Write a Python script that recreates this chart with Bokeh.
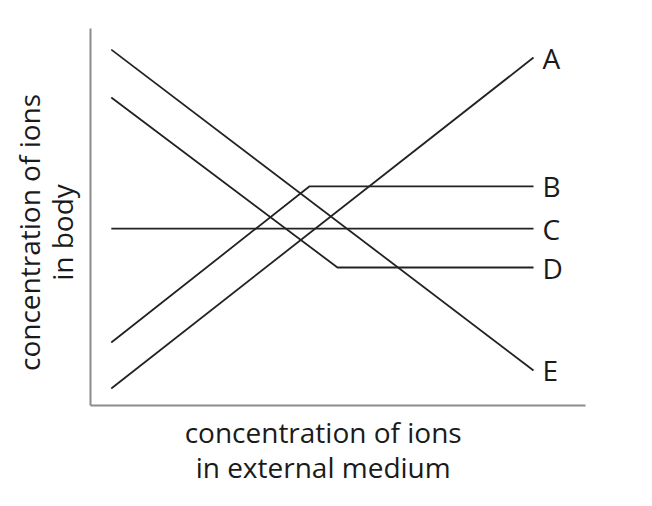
import math
from bokeh.plotting import figure
from bokeh.models import Range1d
from bokeh.core.properties import value
from bokeh.embed import file_html
from bokeh.resources import INLINE

# ---- data (axis units: 0..10 on both axes) ----
names = ["A", "B", "C", "D", "E"]
a_x = [0.42, 8.95]
a_y = [0.45, 9.23]
b_x = [0.42, 4.42, 8.95]
b_y = [1.67, 5.81, 5.81]
c_x = [0.42, 8.95]
c_y = [4.69, 4.69]
d_x = [0.42, 4.99, 8.95]
d_y = [8.17, 3.66, 3.66]
e_x = [0.42, 8.95]
e_y = [9.44, 0.93]
x_title = ["concentration of ions", "in external medium"]
y_title = ["concentration of ions", "in body"]

FONT = "Open Sans"
LINE_COLOR = "#222222"
AXIS_COLOR = "#8c8c8c"
TEXT_COLOR = "#1a1a1a"

p = figure(width=636, height=490, output_backend="svg", toolbar_location=None,
           x_range=Range1d(-1.818, 11.030), y_range=Range1d(-2.255, 10.743),
           min_border=0)
p.outline_line_color = None
p.grid.visible = False
p.background_fill_color = "white"
p.border_fill_color = "white"

for ax in (p.xaxis, p.yaxis):
    ax.ticker = []
    ax.major_tick_in = 0
    ax.major_tick_out = 0
    ax.minor_tick_in = 0
    ax.minor_tick_out = 0
    ax.major_label_standoff = 0
    ax.axis_label_standoff = 0
    ax.major_label_text_font_size = "0px"
    ax.axis_line_color = AXIS_COLOR
    ax.axis_line_width = 2
    ax.fixed_location = 0
    ax.bounds = (0, 10)

series = [(a_x, a_y), (b_x, b_y), (c_x, c_y), (d_x, d_y), (e_x, e_y)]
for xs, ys in series:
    p.line(xs, ys, line_color=LINE_COLOR, line_width=1.8)

label_x = [xs[-1] + 0.18 for xs, ys in series]
label_y = [ys[-1] for xs, ys in series]
p.text(x=label_x, y=label_y, text=names, text_font=value(FONT),
       text_font_size="28px", text_color=TEXT_COLOR,
       text_align="left", text_baseline="middle")

# axis titles
p.text(x=[4.70, 4.70], y=[-0.69, -1.64], text=x_title, text_font=value(FONT),
       text_font_size="28px", text_color=TEXT_COLOR,
       text_align="center", text_baseline="alphabetic")
p.text(x=[-1.25, -0.58], y=[4.59, 4.59], text=y_title, text_font=value(FONT),
       text_font_size="28px", text_color=TEXT_COLOR, angle=math.pi / 2,
       text_align="center", text_baseline="alphabetic")

open("out.html", "w").write(file_html(p, INLINE))
